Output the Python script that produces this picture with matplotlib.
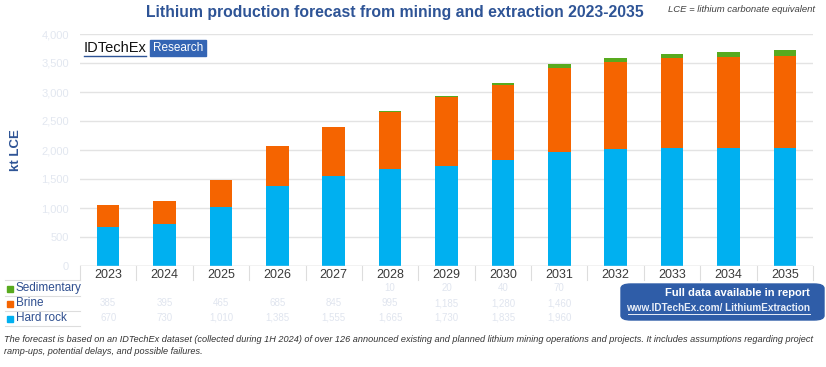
import numpy as np
import matplotlib.pyplot as plt
from matplotlib.patches import FancyBboxPatch, Rectangle

plt.rcParams['font.family'] = ['Liberation Sans', 'DejaVu Sans']

# Data (kt LCE)
years = ["2023", "2024", "2025", "2026", "2027", "2028", "2029",
         "2030", "2031", "2032", "2033", "2034", "2035"]
hard_rock = [670, 730, 1010, 1385, 1555, 1665, 1730, 1835, 1960, 2015, 2030, 2030, 2030]
brine = [385, 395, 465, 685, 845, 995, 1185, 1280, 1460, 1500, 1550, 1570, 1595]
sedimentary = [0, 0, 0, 0, 0, 10, 20, 40, 70, 65, 70, 95, 100]
y_ticks = [0, 500, 1000, 1500, 2000, 2500, 3000, 3500, 4000]

c_rock = "#00B0F0"
c_brine = "#F56400"
c_sed = "#58AA1E"
navy = "#2E5496"
grid_c = "#E3E3E3"

fig = plt.figure(figsize=(8.26, 3.67), dpi=100)
ax = fig.add_axes([80 / 826, 1 - 266 / 367, 733 / 826, 232 / 367])

x = np.arange(len(years))
w = 0.4
ax.bar(x, hard_rock, w, color=c_rock, zorder=3)
ax.bar(x, brine, w, bottom=hard_rock, color=c_brine, zorder=3)
ax.bar(x, sedimentary, w, bottom=np.array(hard_rock) + np.array(brine),
       color=c_sed, zorder=3)

ax.set_xlim(-0.5, len(years) - 0.5)
ax.set_ylim(0, 4000)
ax.set_yticks(y_ticks)
ax.yaxis.grid(True, color=grid_c, linewidth=1, zorder=0)
# tick labels are blurred in the original, so keep them very pale
ax.set_yticklabels([f"{v:,}" for v in y_ticks], color="#E2E7F0", fontsize=8)
ax.tick_params(axis="y", length=0, pad=8)
ax.set_xticks(x)
ax.set_xticklabels(years, color="#3A3A3A", fontsize=9)
ax.tick_params(axis="x", length=0, pad=2)
for s in ax.spines.values():
    s.set_visible(False)
ax.axhline(0, color="#D9D9D9", linewidth=1, zorder=4)

ax.set_ylabel("kt LCE", color=navy, fontsize=9.5, fontweight="bold", labelpad=14)

# table under the axis
fx = lambda px: px / 826
fy = lambda py: 1 - py / 367
for i in range(len(years) + 1):
    xx = fx(80 + i * 733 / len(years))
    fig.add_artist(plt.Line2D([xx, xx], [fy(266), fy(280)], color="#DDDDDD", lw=0.8))
for py in [280, 295.5, 310.5, 325.5]:
    fig.add_artist(plt.Line2D([fx(5), fx(80)], [fy(py), fy(py)], color="#DDDDDD", lw=0.8))

rows = [("Sedimentary", c_sed, sedimentary, 288),
        ("Brine", c_brine, brine, 303),
        ("Hard rock", c_rock, hard_rock, 318)]
for name, col, vals, py in rows:
    fig.add_artist(Rectangle((fx(7), fy(py) - 0.011), 6 / 826, 6 / 367,
                             color=col, transform=fig.transFigure))
    fig.text(fx(16), fy(py), name, color="#2F4F8F", fontsize=8.5, va="center")
    # the last columns sit behind the report box
    for i, v in enumerate(vals[:9]):
        if v > 0:
            fig.text(fx(80 + (i + 0.5) * 733 / len(years)), fy(py), f"{v:,}",
                     color="#E0E5EF", fontsize=7, ha="center", va="center")

# title and notes
fig.text(fx(395), fy(12), "Lithium production forecast from mining and extraction 2023-2035",
         color=navy, fontsize=11.3, fontweight="bold", ha="center", va="center")
fig.text(fx(668), fy(10), "LCE = lithium carbonate equivalent", color="#404040",
         fontsize=6.8, style="italic", va="center")

# logo
fig.text(fx(84), fy(48), "IDTechEx", color="#111111", fontsize=10.5, va="center")
fig.add_artist(plt.Line2D([fx(84), fx(146)], [fy(56), fy(56)], color=navy, lw=1))
fig.add_artist(Rectangle((fx(150), fy(56)), 56 / 826, 16 / 367, color="#3465B4",
                         transform=fig.transFigure))
fig.text(fx(178), fy(48), "Research", color="white", fontsize=8.5, ha="center", va="center")

# report box
box = FancyBboxPatch((fx(621), fy(320)), 203 / 826, 36 / 367,
                     boxstyle="round,pad=0,rounding_size=0.012",
                     color="#2F5DA8", transform=fig.transFigure, zorder=5)
fig.add_artist(box)
fig.text(fx(810), fy(293), "Full data available in report", color="white",
         fontsize=8, fontweight="bold", ha="right", va="center", zorder=6)
fig.text(fx(810), fy(308), "www.IDTechEx.com/ LithiumExtraction", color="#E8EEF8",
         fontsize=7.2, fontweight="bold", ha="right", va="center", zorder=6)
fig.add_artist(plt.Line2D([fx(628), fx(810)], [fy(314), fy(314)], color="#E8EEF8",
                          lw=0.7, zorder=6))

fig.text(fx(4), fy(340), "The forecast is based on an IDTechEx dataset (collected during 1H 2024) of over 126 "
         "announced existing and planned lithium mining operations and projects. It includes assumptions regarding project",
         color="#333333", fontsize=6.55, style="italic", va="center")
fig.text(fx(4), fy(352), "ramp-ups, potential delays, and possible failures.",
         color="#333333", fontsize=6.55, style="italic", va="center")

fig.savefig("out.png", dpi=100)
